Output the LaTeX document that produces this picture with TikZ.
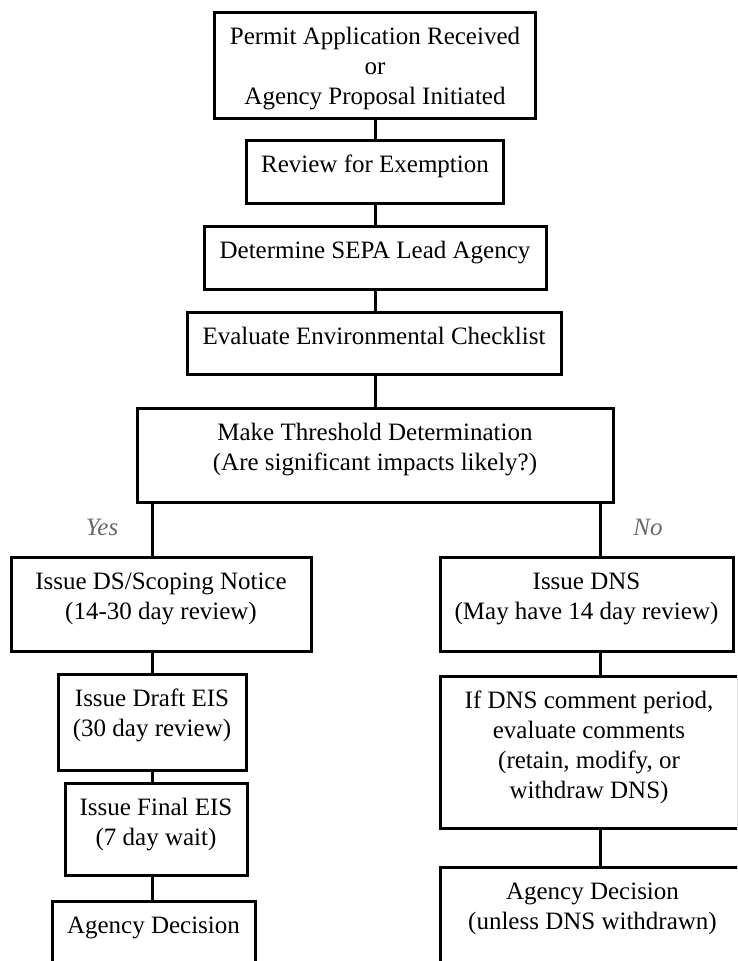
\documentclass[tikz,border=0pt]{standalone}
\usepackage{fontspec}
\setmainfont{Liberation Serif}
\definecolor{branchgray}{RGB}{105,105,105}
% box text: width, height, lines (first baseline 32pt below the top)
\newcommand{\boxlines}[3]{\begin{minipage}[c][#2][t]{#1}\centering\rule{0pt}{32pt}#3\end{minipage}}

\begin{document}
\begin{tikzpicture}[x=1pt,y=-1pt,
  stepbox/.style={draw,line width=3pt,inner sep=0pt,font=\fontsize{25}{30}\selectfont},
  link/.style={line width=3pt},
  branch/.style={font=\fontsize{25}{30}\selectfont\itshape,text=branchgray}]
% fix page size
\useasboundingbox (0,0) rectangle (737,961);
\clip (0,0) rectangle (737,961);
% draw main column
\node[stepbox] (permit) at (375,65) {\boxlines{321pt}{106pt}{Permit Application Received\\or\\Agency Proposal Initiated}};
\node[stepbox] (review) at (375,171.5) {\boxlines{257pt}{63pt}{Review for Exemption}};
\node[stepbox] (lead) at (375,257.5) {\boxlines{342pt}{63pt}{Determine SEPA Lead Agency}};
\node[stepbox] (checklist) at (374,343) {\boxlines{374pt}{62pt}{Evaluate Environmental Checklist}};
\node[stepbox] (threshold) at (375,455) {\boxlines{476pt}{94pt}{Make Threshold Determination\\(Are significant impacts likely?)}};
% draw yes branch
\coordinate (yes) at (152,0);
\node[stepbox] (scoping) at (161,604) {\boxlines{300pt}{94pt}{Issue DS/Scoping Notice\\(14-30 day review)}};
\node[stepbox] (draft) at (152,722) {\boxlines{188pt}{96pt}{Issue Draft EIS\\(30 day review)}};
\node[stepbox] (final) at (156,829) {\boxlines{182pt}{92pt}{Issue Final EIS\\(7 day wait)}};
\node[stepbox] (decisionL) at (153.5,956) {\boxlines{203pt}{110pt}{Agency Decision}};
% draw no branch
\coordinate (no) at (600,0);
\node[stepbox] (dns) at (586.5,604) {\boxlines{293pt}{94pt}{Issue DNS\\(May have 14 day review)}};
\node[stepbox] (comments) at (589,752) {\boxlines{298pt}{152pt}{If DNS comment period,\\evaluate comments\\(retain, modify, or\\withdraw DNS)}};
\node[stepbox] (decisionR) at (592.5,922) {\boxlines{305pt}{110pt}{Agency Decision\\(unless DNS withdrawn)}};
% draw branch labels
\node[branch] (yeslabel) at (102,527) {Yes};
\node[branch] (nolabel) at (648,527) {No};
% draw connectors
\draw[link] (permit.south) -- (review.north);
\draw[link] (review.south) -- (lead.north);
\draw[link] (lead.south) -- (lead.south |- checklist.north);
\draw[link] (lead.south |- checklist.south) -- (lead.south |- threshold.north);
\draw[link] (threshold.south -| yes) -- (scoping.north -| yes);
\draw[link] (scoping.south -| yes) -- (draft.north -| yes);
\draw[link] (draft.south -| yes) -- (final.north -| yes);
\draw[link] (final.south -| yes) -- (decisionL.north -| yes);
\draw[link] (threshold.south -| no) -- (dns.north -| no);
\draw[link] (dns.south -| no) -- (comments.north -| no);
\draw[link] (comments.south -| no) -- (decisionR.north -| no);
\end{tikzpicture}
\end{document}
